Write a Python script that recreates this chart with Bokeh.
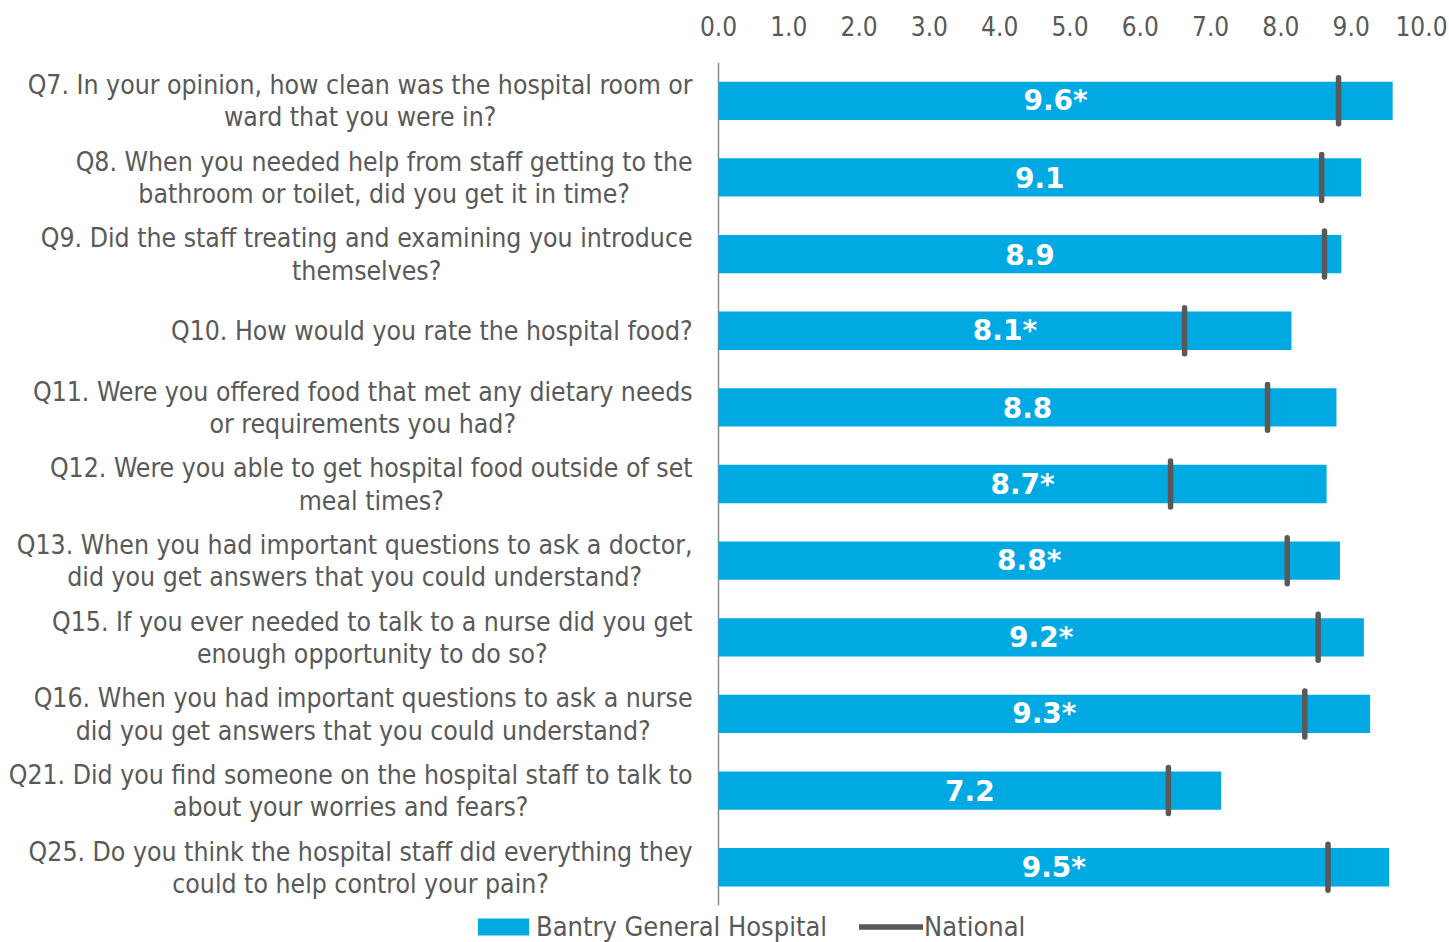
import glob
import os
from bokeh.plotting import figure
from bokeh.models import (Range1d, ColumnDataSource, FixedTicker,
                          NumeralTickFormatter, Legend, LegendItem)
from bokeh.embed import file_html
from bokeh.resources import INLINE
from bokeh.core.properties import value

questions = [
    "Q7. In your opinion, how clean was the hospital room or\nward that you were in?",
    "Q8. When you needed help from staff getting to the\nbathroom or toilet, did you get it in time?",
    "Q9. Did the staff treating and examining you introduce\nthemselves?",
    "Q10. How would you rate the hospital food?",
    "Q11. Were you offered food that met any dietary needs\nor requirements you had?",
    "Q12. Were you able to get hospital food outside of set\nmeal times?",
    "Q13. When you had important questions to ask a doctor,\ndid you get answers that you could understand?",
    "Q15. If you ever needed to talk to a nurse did you get\nenough opportunity to do so?",
    "Q16. When you had important questions to ask a nurse\ndid you get answers that you could understand?",
    "Q21. Did you find someone on the hospital staff to talk to\nabout your worries and fears?",
    "Q25. Do you think the hospital staff did everything they\ncould to help control your pain?",
]
hospital = [9.59, 9.14, 8.86, 8.15, 8.79, 8.65, 8.84, 9.18, 9.27, 7.15, 9.54]
national = [8.82, 8.58, 8.62, 6.63, 7.81, 6.43, 8.09, 8.53, 8.34, 6.40, 8.67]
bar_labels = ["9.6*", "9.1", "8.9", "8.1*", "8.8", "8.7*", "8.8*", "9.2*", "9.3*", "7.2", "9.5*"]
x_ticks = [0, 1, 2, 3, 4, 5, 6, 7, 8, 9, 10]

FONT = "DejaVu Sans Condensed"
LABEL_SIZE = 26.4
GREY = "#595959"
BLUE = "#00A9E2"

# layout in pixels
W, H = 1449, 942
TOP_BORDER = 62
RIGHT_BORDER = 28
FRAME_W = W - RIGHT_BORDER
FRAME_H = H - TOP_BORDER
ZERO_PX = 718          # where value 0 sits
LABEL_RIGHT_PX = 692   # right edge of question labels
BAND_PX = 76.64        # height of one question band
XMIN = -10 * ZERO_PX / (FRAME_W - ZERO_PX)
PXU = FRAME_W / (10 - XMIN)
n = len(questions)
y_bottom = FRAME_H / BAND_PX - 0.5


def text_width(s, size):
    path = None
    for d in ["/usr/share/fonts", "/usr/local/share/fonts", os.path.expanduser("~/.fonts")]:
        hits = glob.glob(os.path.join(d, "**", "DejaVuSansCondensed.ttf"), recursive=True)
        if hits:
            path = hits[0]
            break
    try:
        from PIL import ImageFont
        f = ImageFont.truetype(path, size)
        return f.getlength(s)
    except Exception:
        return len(s) * 0.47 * size


label_x = []
for q in questions:
    wmax = max(text_width(line, LABEL_SIZE) for line in q.split("\n"))
    label_x.append((LABEL_RIGHT_PX - ZERO_PX - wmax / 2) / PXU)

pos = list(range(n))
src = ColumnDataSource(dict(
    y=pos, q=questions, hospital=hospital, national=national, lab=bar_labels,
    mid=[h / 2 for h in hospital], lx=label_x,
    n0=[y - 0.3 for y in pos], n1=[y + 0.3 for y in pos],
))

p = figure(width=W, height=H, output_backend="svg", toolbar_location=None,
           x_range=Range1d(XMIN, 10), y_range=Range1d(y_bottom, -0.5),
           x_axis_location="above", y_axis_location=None,
           min_border_left=0, min_border_right=RIGHT_BORDER, min_border_top=TOP_BORDER,
           min_border_bottom=0)
p.outline_line_color = None
p.xgrid.grid_line_color = None
p.ygrid.grid_line_color = None

# value axis baseline (vertical line at 0 spanning the question bands)
p.segment(x0=[0], x1=[0], y0=[-0.5], y1=[n - 0.5], line_color="#8c8c8c", line_width=1.5)

bars = p.hbar(y="y", right="hospital", left=0, height=0.5, source=src,
              fill_color=BLUE, line_color=None)
seg = p.segment(x0="national", x1="national", y0="n0", y1="n1",
                source=src, line_color=GREY, line_width=5.5, line_cap="round")
p.text(x="mid", y="y", text="lab", source=src, text_align="center", text_baseline="middle",
       text_color="white", text_font=value("DejaVu Sans"), text_font_style="bold",
       text_font_size="28px")
p.text(x="lx", y="y", text="q", source=src, text_align="center", text_baseline="middle",
       text_color=GREY, text_font=value(FONT), text_font_size=f"{LABEL_SIZE}px",
       text_line_height=1.04)

xa = p.xaxis[0]
xa.ticker = FixedTicker(ticks=x_ticks)
xa.formatter = NumeralTickFormatter(format="0.0")
xa.axis_line_color = None
xa.major_tick_line_color = None
xa.minor_tick_line_color = None
xa.major_tick_out = 0
xa.major_label_standoff = 27
xa.major_label_text_font = FONT
xa.major_label_text_font_size = "26px"
xa.major_label_text_color = GREY

legend = Legend(items=[LegendItem(label="Bantry General Hospital", renderers=[bars]),
                       LegendItem(label="National", renderers=[seg])],
                orientation="horizontal", location=(471, 0),
                glyph_width=64, glyph_height=21, label_standoff=1, spacing=32,
                label_text_font=FONT, label_text_font_size="27px", label_text_color=GREY,
                border_line_color=None, background_fill_alpha=0, padding=0, margin=0)
p.add_layout(legend, "center")

open("out.html", "w").write(file_html(p, INLINE))
